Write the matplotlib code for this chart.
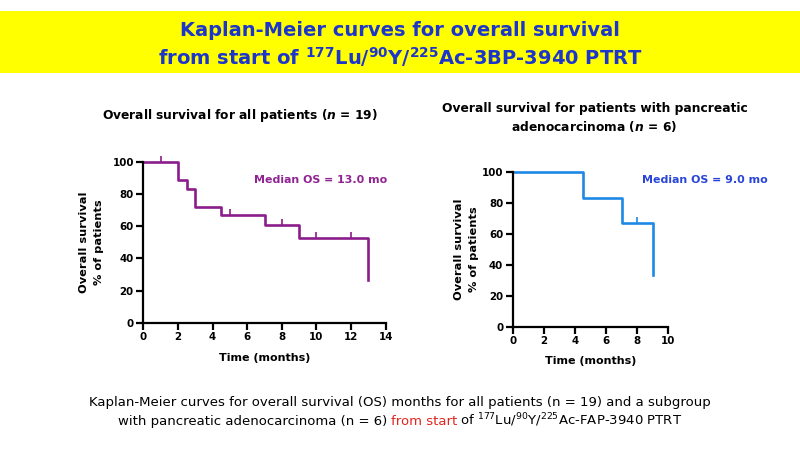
import matplotlib
matplotlib.use("Agg")
from matplotlib import pyplot as plt
from matplotlib.patches import Rectangle

# all patients (n = 19)
all_time = [0, 2, 2.5, 3, 4.5, 7, 9, 13]
all_surv = [100, 88.9, 83.3, 72.2, 66.7, 60.6, 53.0, 26.5]
all_cens_time = [1, 5, 8, 10, 12]
all_cens_surv = [100, 66.7, 60.6, 53.0, 53.0]

# pancreatic adenocarcinoma (n = 6)
panc_time = [0, 4.5, 7, 9]
panc_surv = [100, 83.3, 66.7, 33.3]
panc_cens_time = [8]
panc_cens_surv = [66.7]

median_all = "Median OS = 13.0 mo"
median_panc = "Median OS = 9.0 mo"

plt.rcParams["font.family"] = ["DejaVu Sans"]
plt.rcParams["mathtext.fontset"] = "custom"
plt.rcParams["mathtext.rm"] = "DejaVu Sans"
plt.rcParams["mathtext.bf"] = "DejaVu Sans:bold"
plt.rcParams["mathtext.it"] = "DejaVu Sans:italic:bold"
plt.rcParams["mathtext.default"] = "regular"

W, H = 800, 450
fig = plt.figure(figsize=(8, 4.5), dpi=100)


def fx(x):
    return x / W


def fy(y):
    return 1 - y / H


# yellow banner with title
fig.patches.append(Rectangle((0, fy(73)), 1, (73 - 11) / H, transform=fig.transFigure,
                             facecolor="#ffff00", edgecolor="none", zorder=0))
title_blue = "#1c36cc"
fig.text(0.5, fy(36), "Kaplan-Meier curves for overall survival", ha="center", va="baseline",
         fontsize=14, fontweight="bold", color=title_blue)
fig.text(0.5, fy(65), r"from start of $^{\mathbf{177}}$Lu/$^{\mathbf{90}}$Y/$^{\mathbf{225}}$Ac-3BP-3940 PTRT",
         ha="center", va="baseline", fontsize=14, fontweight="bold", color=title_blue)

# subplot titles
fig.text(fx(240), fy(119.5), r"Overall survival for all patients ($\mathit{n}$ = 19)",
         ha="center", va="baseline", fontsize=8.8, fontweight="bold")
fig.text(fx(594.5), fy(112.3), "Overall survival for patients with pancreatic",
         ha="center", va="baseline", fontsize=8.8, fontweight="bold")
fig.text(fx(594.5), fy(130.7), r"adenocarcinoma ($\mathit{n}$ = 6)",
         ha="center", va="baseline", fontsize=8.8, fontweight="bold")


def style(ax, xmax, ylab_x, xlab_y):
    ax.set_xlim(0, xmax)
    ax.set_ylim(0, 100)
    for s in ["top", "right"]:
        ax.spines[s].set_visible(False)
    for s in ["left", "bottom"]:
        ax.spines[s].set_linewidth(1.6)
    ax.set_xticks(range(0, xmax + 1, 2))
    ax.set_yticks(range(0, 101, 20))
    ax.tick_params(width=1.6, length=4.8, labelsize=7.4, pad=2)
    for lab in ax.get_xticklabels() + ax.get_yticklabels():
        lab.set_fontweight("bold")
    ax.set_xlabel("Time (months)", fontsize=8, fontweight="bold", va="center")
    ax.xaxis.set_label_coords(0.5, xlab_y)
    ax.set_ylabel("Overall survival\n% of patients", fontsize=8.2, fontweight="bold",
                  va="center", linespacing=1.65)
    ax.yaxis.set_label_coords(ylab_x, 0.5)


# left: all patients
ax1 = fig.add_axes([fx(143.3), fy(323), 242.4 / W, 161.3 / H])
purple = "#8b1c8b"
ax1.step(all_time, all_surv, where="post", color=purple, lw=1.9, clip_on=False)
ax1.plot(all_cens_time, all_cens_surv, ls="none", marker=2, ms=4, mew=1.2,
         color=purple, clip_on=False)
ax1.text(6.39, 88.7, median_all, color="#8f2492", fontsize=7.9, fontweight="bold",
         ha="left", va="center")
style(ax1, 14, -0.214, -0.217)

# right: pancreatic adenocarcinoma
ax2 = fig.add_axes([fx(512.7), fy(326.7), 155.6 / W, 155 / H])
blue = "#1e88e5"
ax2.step(panc_time, panc_surv, where="post", color=blue, lw=1.9, clip_on=False)
ax2.plot(panc_cens_time, panc_cens_surv, ls="none", marker=2, ms=4, mew=1.2,
         color=blue, clip_on=False)
ax2.text(8.31, 94.6, median_panc, color="#2a45d8", fontsize=7.9, fontweight="bold",
         ha="left", va="center")
style(ax2, 10, -0.297, -0.219)

# caption at the bottom
cap_size = 9.5
fig.text(0.5, fy(406),
         "Kaplan-Meier curves for overall survival (OS) months for all patients (n = 19) and a subgroup",
         ha="center", va="baseline", fontsize=cap_size)

parts = [("with pancreatic adenocarcinoma (n = 6) ", "black"),
         ("from start", "#e3241d"),
         (r" of $^{177}$Lu/$^{90}$Y/$^{225}$Ac-FAP-3940 PTRT", "black")]
renderer = fig.canvas.get_renderer()


def width(s):
    t = fig.text(0, 0, s, fontsize=cap_size)
    w = t.get_window_extent(renderer).width
    t.remove()
    return w


full = "".join(p for p, _ in parts)
x0 = W / 2 - width(full) / 2
prefix = ""
for p, c in parts:
    prefix += p
    piece = p.strip()
    end = prefix.rstrip()
    x = x0 + width(end) - width(piece)
    fig.text(x / W, fy(425), piece, ha="left", va="baseline", fontsize=cap_size, color=c)

plt.savefig("out.png", dpi=100)
